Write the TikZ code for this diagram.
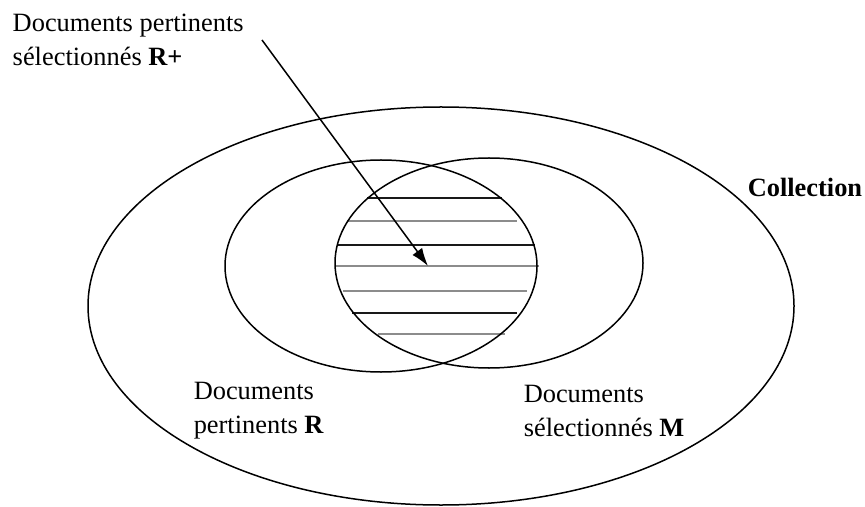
\documentclass[tikz,border=0pt]{standalone}
\usepackage{fontspec}
\setmainfont{Liberation Serif}
\usetikzlibrary{arrows.meta,positioning}
\tikzset{>={Latex[length=9pt,width=6pt]}}
\tikzset{font=\fontsize{13.2}{17}\selectfont}
\tikzset{labeltext/.style={anchor=north west, inner sep=0pt, align=left}}
\tikzset{hatchline/.style={line width=1.2pt}}

\begin{document}
\begin{tikzpicture}[x=0.5pt, y=-0.5pt, line width=0.75pt]
  \useasboundingbox (0,0) rectangle (865,507);%
  % hachures de l'intersection
  \foreach \y/\xa/\xb/\c in {198/367/502/black!90, 221/347/517/black!45,
      245/337/535/black!90, 266/335/539/black!45, 291/343/527/black!45,
      313/352/517/black!90, 334/378/505/black!45}
    \draw[hatchline, \c] (\xa,\y) -- (\xb,\y);%
  % ensembles
  \draw (441,306) ellipse (353 and 199);%
  \draw (381,266) ellipse (156 and 106);%
  \draw (489,263) ellipse (154 and 105);%
  % textes
  \node[labeltext] (rplus) at (12,13) {Documents pertinents\\sélectionnés \textbf{R+}};
  \node[anchor=base west, inner sep=0pt] (coll) at (747,197) {\textbf{Collection}};
  \node[labeltext] (rset) at (193,381) {Documents\\pertinents \textbf{R}};
  \node[labeltext] (mset) at (523,384) {Documents\\sélectionnés \textbf{M}};
  % fleche
  \coordinate (tail) at (262,40);
  \coordinate (tip) at (428,266);
  \draw[->] (tail) -- (tip);%
\end{tikzpicture}
\end{document}
